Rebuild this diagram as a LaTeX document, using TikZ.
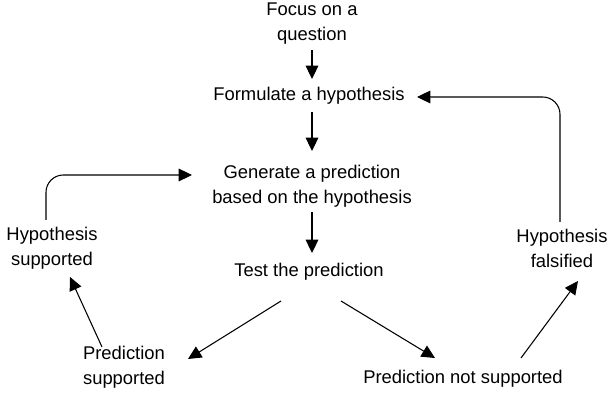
\documentclass[tikz,border=0pt]{standalone}
\usepackage{fontspec}
\setmainfont{Liberation Sans}
\usetikzlibrary{arrows.meta, calc, positioning}

\begin{document}
\begin{tikzpicture}[
    x=0.75pt, y=-0.75pt,
    label/.style={align=center, inner sep=0pt, font=\fontsize{13.8}{18.75}\selectfont},
    arrow/.style={-{Triangle[length=10pt, width=9.5pt]}, line width=0.8pt},
]
\useasboundingbox (0,0) rectangle (610,416);

% Main sequence
\node[label] (focus) at (312,24) {Focus on a\\question};
\node[label] (formulate) at (309,96) {Formulate a hypothesis};
\node[label] (generate) at (312,186) {Generate a prediction\\based on the hypothesis};
\node[label] (test) at (309,272) {Test the prediction};

% Outcomes
\node[label] (predsup) at (124,367) {Prediction\\supported};
\node[label] (prednot) at (463,379) {Prediction not supported};
\node[label] (hypsup) at (52,248) {Hypothesis\\supported};
\node[label] (hypfal) at (562,248) {Hypothesis\\falsified};

% Arrows
\draw[arrow] ($(focus)+(0,26)$) -- ($(formulate)+(3,-17)$);
\draw[arrow] ($(formulate)+(3,16)$) -- ($(generate)+(0,-35)$);
\draw[arrow] ($(generate)+(0,26)$) -- ($(test)+(3,-19)$);
\draw[arrow] ($(test)+(-28,29)$) -- ($(predsup)+(64,-8)$);
\draw[arrow] ($(test)+(32,29)$) -- ($(prednot)+(-28,-21)$);
\draw[arrow] ($(predsup)+(-22,-20)$) -- ($(hypsup)+(18,29)$);
\draw[arrow] ($(prednot)+(58,-21)$) -- ($(hypfal)+(16,33)$);

% Loops back
\draw[arrow, rounded corners=13pt] ($(hypsup)+(-6,-28)$) |- ($(generate)+(-120,-11)$);
\draw[arrow, rounded corners=13pt] ($(hypfal)+(-2,-26)$) |- ($(formulate)+(108,1)$);

\end{tikzpicture}
\end{document}
